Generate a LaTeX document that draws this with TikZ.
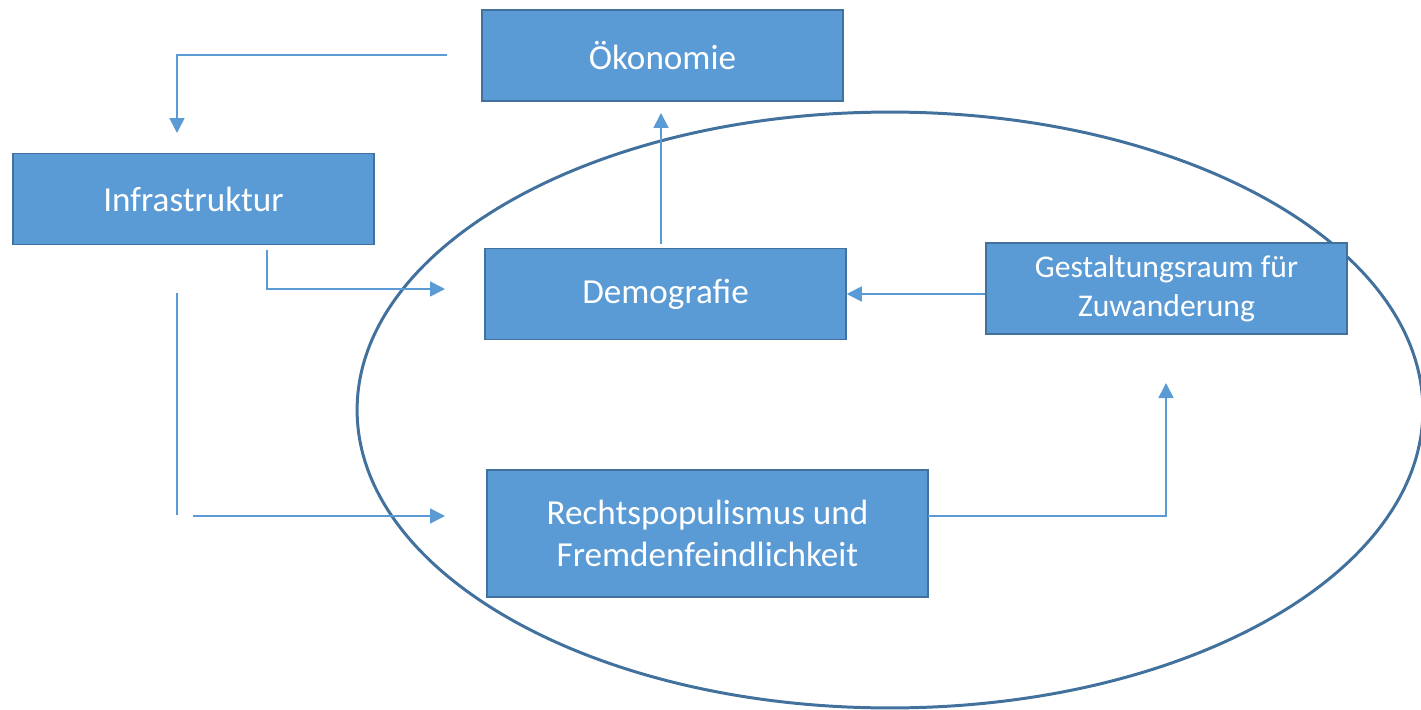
\documentclass[tikz,border=0pt]{standalone}
\usepackage{fontspec}
\setmainfont{Carlito}
\usetikzlibrary{arrows.meta,positioning}
\definecolor{boxblue}{HTML}{5B9BD5}
\definecolor{rimblue}{HTML}{41719C}

\begin{document}
\begin{tikzpicture}[x=0.02cm, y=-0.02cm,
    link/.style={draw=boxblue, line width=1pt, -{Triangle[length=0.3cm,width=0.3cm]}},
    plain/.style={draw=boxblue, line width=1pt}]
      \useasboundingbox (0,0) rectangle (1421,710);
      \draw[rimblue, line width=1.7pt] (890,410) ellipse [x radius=10.66cm, y radius=5.96cm];
      \begin{scope}[every node/.style={rectangle, draw=rimblue, line width=0.9pt, fill=boxblue,
          text=white, font=\fontsize{20}{24}\selectfont, align=center,
          minimum width=7.22cm, minimum height=1.82cm}]
        \node (oeko) at (662.5,55.5) {Ökonomie};
        \node (infra) at (193.5,199) {Infrastruktur};
        \node (demo) at (665.5,294) {Demografie};
        \node (gestalt) at (1166.5,288.5) [font=\fontsize{18}{22}\selectfont] {\raisebox{-3pt}{Gestaltungsraum für}\\\raisebox{-3pt}{Zuwanderung}};
        \node (rechts) at (707.5,533.5) [minimum width=8.82cm, minimum height=2.54cm] {Rechtspopulismus und\\Fremdenfeindlichkeit};
      \end{scope}
      \begin{scope}
        \coordinate (oekoout) at (447,55);
        \coordinate (infrain) at (177,133);
        \coordinate (infraout) at (267,250);
        \coordinate (demoin) at (445,289);
        \coordinate (stubtop) at (177,293);
        \coordinate (stubbot) at (177,515);
        \coordinate (rechtsstart) at (193,516);
        \coordinate (rechtsin) at (445,516);
        \coordinate (demoout) at (661,244);
        \coordinate (oekoin) at (661,113);
        \coordinate (rechtsout) at (928,516);
        \coordinate (gestaltin) at (1166,383);
        \path (oekoout) edge[link, to path={-| (\tikztotarget)}] (infrain);
        \path (infraout) edge[link, to path={|- (\tikztotarget)}] (demoin);
        \path (stubtop) edge[plain] (stubbot);
        \path (rechtsstart) edge[link] (rechtsin);
        \path (demoout) edge[link] (oekoin);
        \path (gestalt.west |- demo.east) edge[link] (demo.east);
        \path (rechtsout) edge[link, to path={-| (\tikztotarget)}] (gestaltin);
      \end{scope}
    \end{tikzpicture}
\end{document}
